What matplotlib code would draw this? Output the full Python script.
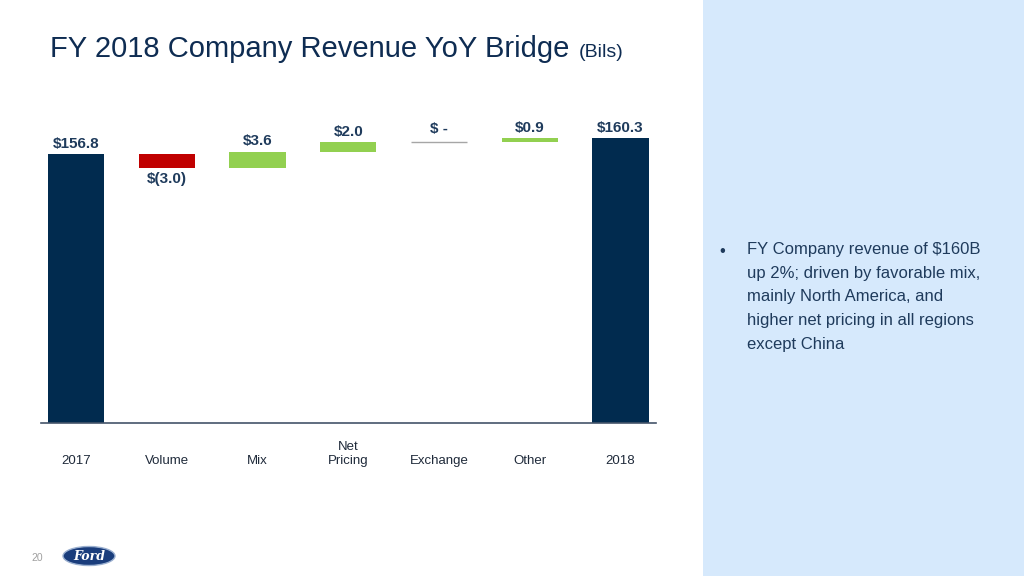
import numpy as np
import matplotlib.pyplot as plt
from matplotlib.patches import Ellipse, Rectangle
from matplotlib.transforms import blended_transform_factory

# data (billions)
categories = ['2017', 'Volume', 'Mix', 'Net\nPricing', 'Exchange', 'Other', '2018']
values = [156.8, -3.0, 3.6, 2.0, 0.0, 0.9, 160.3]
labels = ['$156.8', '$(3.0)', '$3.6', '$2.0', '$ -', '$0.9', '$160.3']
is_total = [True, False, False, False, False, False, True]
bullet = ("FY Company revenue of $160B\nup 2%; driven by favorable mix,\n"
          "mainly North America, and\nhigher net pricing in all regions\nexcept China")

navy = '#012B4F'
red = '#C00000'
green = '#92D050'
text_col = '#1F3B5C'

plt.rcParams['font.family'] = ['Liberation Sans', 'DejaVu Sans']

fig = plt.figure(figsize=(10.24, 5.76), dpi=100)
fig.patch.set_facecolor('white')

# light blue side panel
fig.patches.append(Rectangle((703 / 1024, 0), 1 - 703 / 1024, 1, transform=fig.transFigure,
                             facecolor='#D6E9FC', edgecolor='none', zorder=0))

ax = fig.add_axes([41 / 1024, 1 - 423 / 576, (656 - 41) / 1024, 323 / 576])
ax.set_facecolor('none')


def put_label(i, y, txt, above=True):
    ax.annotate(txt, (i, y), xytext=(0, 2.5 if above else -2.5), textcoords='offset points',
                ha='center', va='bottom' if above else 'top', fontsize=11,
                fontweight='bold', color=text_col)


width = 0.62
running = 0.0
for i, (v, tot) in enumerate(zip(values, is_total)):
    if tot:
        ax.bar(i, v, width=width, color=navy, bottom=0)
        running = v
        put_label(i, v, labels[i])
        continue
    start = running
    end = running + v
    running = end
    if v == 0:
        ax.hlines(start, i - width / 2, i + width / 2, color='#A6A6A6', lw=1)
        put_label(i, start + 0.5, labels[i])
        continue
    col = green if v > 0 else red
    ax.bar(i, end - start, bottom=start, width=width, color=col)
    if v > 0:
        put_label(i, end, labels[i])
    else:
        put_label(i, end, labels[i], above=False)

ax.set_xlim(-0.386, 6.39)
ax.set_ylim(99, 168.5)
for s in ['top', 'right', 'left']:
    ax.spines[s].set_visible(False)
ax.spines['bottom'].set_color('#44546A')
ax.spines['bottom'].set_linewidth(1.2)
ax.set_yticks([])
ax.set_xticks([])

trans = blended_transform_factory(ax.transData, ax.transAxes)
for i, c in enumerate(categories):
    ax.text(i, -0.127, c, transform=trans, ha='center', va='baseline', fontsize=9.5,
            color='#1F2A3A', linespacing=1.2)

# title
title = fig.text(50 / 1024, 1 - 57 / 576, 'FY 2018 Company Revenue YoY Bridge', fontsize=21,
                 color='#0E2C52', va='baseline', ha='left')
fig.canvas.draw()
tb = title.get_window_extent()
fig.text((tb.x1 + 9) / 1024, 1 - 57 / 576, '(Bils)', fontsize=14, color='#0E2C52',
         va='baseline', ha='left')

# bullet
fig.text(719 / 1024, 1 - 256 / 576, '•', fontsize=12, color=text_col, va='baseline')
fig.text(747 / 1024, 1 - 242 / 576, bullet, fontsize=12, color=text_col,
         va='top', ha='left', linespacing=1.72)

# footer
fig.text(31 / 1024, 1 - 561 / 576, '20', fontsize=7.5, color='#A0A0A0', va='baseline')
fig.patches.append(Ellipse((89 / 1024, 1 - 556 / 576), 52 / 1024, 19 / 576,
                           transform=fig.transFigure, facecolor='#1A3D7C',
                           edgecolor='#9BB0D0', lw=1.0))
fig.text(89 / 1024, 1 - 556 / 576, 'Ford', fontsize=9, color='white', style='italic',
         fontweight='bold', family='DejaVu Serif', ha='center', va='center')

fig.savefig('out.png', dpi=100)
